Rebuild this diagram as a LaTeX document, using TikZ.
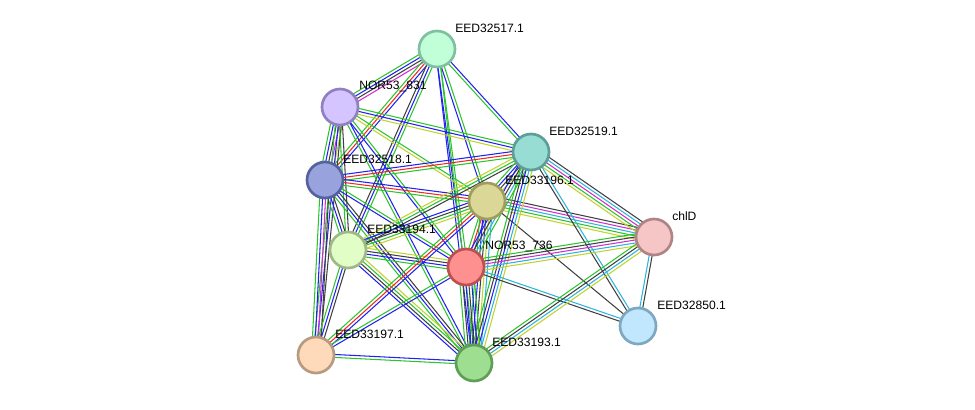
\documentclass[tikz,border=0pt]{standalone}
\usepackage{fontspec}
\setmainfont{Liberation Sans}
\usepackage{xcolor}
\usetikzlibrary{calc}

\definecolor{sgreen}{HTML}{2CC42C}
\definecolor{sblue}{HTML}{2222F0}
\definecolor{sred}{HTML}{F02828}
\definecolor{sblack}{HTML}{404040}
\definecolor{syellow}{HTML}{C2D22E}
\definecolor{smagenta}{HTML}{D02ED0}
\definecolor{scyan}{HTML}{2EB4DC}

\tikzset{
    edge/.style={line width=0.75pt},
    prot/.style={circle,minimum size=0.9cm,inner sep=0pt,line width=1.9pt},
    lbl/.style={anchor=west,inner sep=0pt,font=\fontsize{8.6}{10}\selectfont}
}

% bundle of parallel lines, one per evidence colour
\newcommand{\edgebundle}[3]{%
    \foreach \c [count=\k] in {#3}{\xdef\nlines{\k}}%
    \foreach \c [count=\k] in {#3}{%
        \pgfmathsetmacro{\off}{(\k-(\nlines+1)/2)*2.1}%
        \draw[edge,\c] ($(#1)!\off pt!90:(#2)$) -- ($(#2)!\off pt!-90:(#1)$);
    }%
}

\begin{document}
\begin{tikzpicture}[x=0.025cm,y=-0.025cm]
            \useasboundingbox (0,0) rectangle (975,409);

            \coordinate (A) at (437,49);
            \coordinate (B) at (340,107);
            \coordinate (C) at (531,152);
            \coordinate (D) at (325,180);
            \coordinate (E) at (487,201);
            \coordinate (F) at (654,237);
            \coordinate (G) at (348,250);
            \coordinate (H) at (466,267);
            \coordinate (I) at (638,326);
            \coordinate (J) at (316,355);
            \coordinate (K) at (474,363);

            \edgebundle{A}{B}{sgreen,sblue,sblack,smagenta}
            \edgebundle{A}{D}{sgreen,sred,sblue}
            \edgebundle{A}{G}{sblack,sblue,sgreen}
            \edgebundle{A}{E}{sblue,sgreen}
            \edgebundle{A}{H}{sblue,sgreen}
            \edgebundle{A}{K}{sblue,sgreen}
            \edgebundle{A}{C}{sgreen,sblue}
            \edgebundle{B}{D}{sgreen,sblue,sblack,smagenta,syellow}
            \edgebundle{B}{J}{sgreen,sblue,sblack}
            \edgebundle{B}{C}{syellow,sblue,sgreen}
            \edgebundle{B}{E}{syellow,sgreen}
            \edgebundle{B}{H}{sblue,sgreen}
            \edgebundle{B}{K}{sgreen,sblue}
            \edgebundle{B}{G}{sgreen,sblack}
            \edgebundle{D}{C}{sgreen,sred,sblue}
            \edgebundle{D}{E}{sgreen,sred,sblue}
            \edgebundle{D}{G}{sgreen,sblue,sblack}
            \edgebundle{D}{H}{sblue,sgreen}
            \edgebundle{D}{K}{sgreen,sblue,sblack}
            \edgebundle{D}{J}{sgreen,sblue,smagenta,sblack}
            \edgebundle{G}{C}{sblack,sgreen,syellow}
            \edgebundle{G}{E}{syellow,sgreen,sblack,sblue}
            \edgebundle{G}{H}{sgreen,sblue,sblack,syellow}
            \edgebundle{G}{K}{sblue,sblack,sgreen,syellow}
            \edgebundle{G}{J}{sgreen,sblue,sblack}
            \edgebundle{E}{C}{syellow,sblack,sblue,sgreen}
            \edgebundle{E}{F}{syellow,sgreen,scyan,smagenta,sblack}
            \edgebundle{E}{H}{sgreen,sred,sblue}
            \edgebundle{E}{J}{sgreen,sred,sblue}
            \edgebundle{E}{K}{sgreen,sblue,sblack,syellow,scyan}
            \edgebundle{E}{I}{sblack}
            \edgebundle{C}{H}{sblue,sblack,scyan,sgreen}
            \edgebundle{C}{K}{sgreen,sblack,sblue,scyan,syellow}
            \edgebundle{C}{F}{syellow,sgreen,smagenta,scyan,sblack}
            \edgebundle{C}{I}{sblack,scyan}
            \edgebundle{H}{F}{syellow,scyan,smagenta,sblack,sgreen}
            \edgebundle{H}{I}{sblack,scyan}
            \edgebundle{H}{K}{sgreen,sblack,sblue,sblack,sblue,sgreen}
            \edgebundle{H}{J}{sgreen,sblue}
            \edgebundle{K}{F}{syellow,scyan,sblack,sgreen}
            \edgebundle{F}{I}{scyan,sblack}
            \edgebundle{J}{K}{sgreen,sblue}

            \node[prot,fill={rgb,255:red,192;green,255;blue,216},draw={rgb,255:red,128;green,192;blue,160}] (nA) at (A) {};
            \node[prot,fill={rgb,255:red,212;green,196;blue,255},draw={rgb,255:red,144;green,128;blue,192}] (nB) at (B) {};
            \node[prot,fill={rgb,255:red,151;green,221;blue,212},draw={rgb,255:red,94;green,158;blue,152}] (nC) at (C) {};
            \node[prot,fill={rgb,255:red,152;green,163;blue,222},draw={rgb,255:red,86;green,98;blue,160}] (nD) at (D) {};
            \node[prot,fill={rgb,255:red,218;green,215;blue,151},draw={rgb,255:red,160;green,156;blue,92}] (nE) at (E) {};
            \node[prot,fill={rgb,255:red,246;green,198;blue,198},draw={rgb,255:red,176;green,132;blue,132}] (nF) at (F) {};
            \node[prot,fill={rgb,255:red,224;green,254;blue,198},draw={rgb,255:red,160;green,184;blue,136}] (nG) at (G) {};
            \node[prot,fill={rgb,255:red,255;green,144;blue,144},draw={rgb,255:red,192;green,80;blue,80}] (nH) at (H) {};
            \node[prot,fill={rgb,255:red,193;green,231;blue,254},draw={rgb,255:red,126;green,167;blue,192}] (nI) at (I) {};
            \node[prot,fill={rgb,255:red,254;green,217;blue,186},draw={rgb,255:red,184;green,154;blue,128}] (nJ) at (J) {};
            \node[prot,fill={rgb,255:red,157;green,222;blue,144},draw={rgb,255:red,94;green,158;blue,86}] (nK) at (K) {};

            \node[lbl] (lA) at ($(A)+(18,-21)$) {EED32517.1};
            \node[lbl] (lB) at ($(B)+(19,-21)$) {NOR53\_831};
            \node[lbl] (lC) at ($(C)+(18,-21)$) {EED32519.1};
            \node[lbl] (lD) at ($(D)+(18,-21)$) {EED32518.1};
            \node[lbl] (lE) at ($(E)+(18,-21)$) {EED33196.1};
            \node[lbl] (lF) at ($(F)+(18,-21)$) {chlD};
            \node[lbl] (lG) at ($(G)+(19,-21)$) {EED33194.1};
            \node[lbl] (lH) at ($(H)+(19,-21)$) {NOR53\_736};
            \node[lbl] (lI) at ($(I)+(19,-21)$) {EED32850.1};
            \node[lbl] (lJ) at ($(J)+(19,-21)$) {EED33197.1};
            \node[lbl] (lK) at ($(K)+(18,-21)$) {EED33193.1};

        \end{tikzpicture}
\end{document}
